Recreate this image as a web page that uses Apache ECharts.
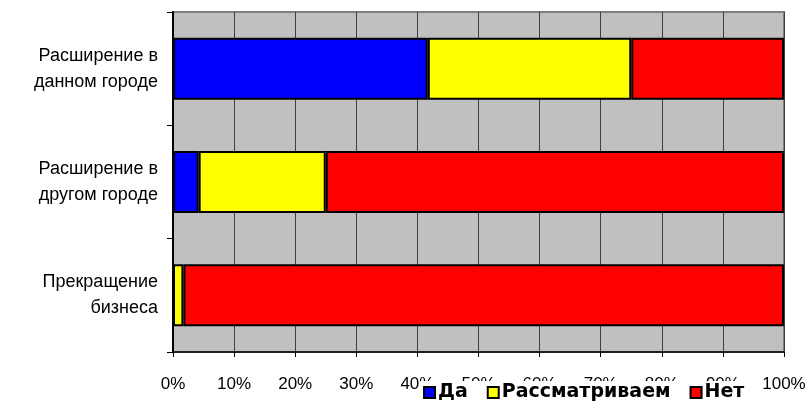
<!DOCTYPE html>
<html>
<head>
<meta charset="utf-8">
<script src="https://cdn.jsdelivr.net/npm/echarts@6/dist/echarts.min.js"></script>
<style>html,body{margin:0;padding:0;background:#fff;}#c{width:810px;height:412px;}</style>
</head>
<body>
<div id="c"></div>
<script>
const categories = ['Расширение в\nданном городе', 'Расширение в\nдругом городе', 'Прекращение\nбизнеса'];
const seriesNames = ['Да', 'Рассматриваем', 'Нет'];
const valuesDa = [41.7, 4.2, 0];
const valuesConsider = [33.3, 20.8, 1.7];
const valuesNo = [25.0, 75.0, 98.3];
const xTicks = [0, 10, 20, 30, 40, 50, 60, 70, 80, 90, 100];
const colors = ['#0000FF', '#FFFF00', '#FF0000'];

const chart = echarts.init(document.getElementById('c'), null, {renderer: 'canvas'});
const dataSets = [valuesDa, valuesConsider, valuesNo];
chart.setOption({
  animation: false,
  textStyle: {fontFamily: 'Liberation Sans, Arial, sans-serif'},
  grid: {left: 173, right: 26, top: 12, bottom: 60, show: true, backgroundColor: '#C0C0C0', borderColor: '#808080', borderWidth: 2},
  legend: {
    data: seriesNames,
    left: 419, top: 381,
    padding: [2, 4, 1, 4],
    backgroundColor: '#FFFFFF',
    icon: 'rect', itemWidth: 11, itemHeight: 11, itemGap: 19,
    itemStyle: {borderColor: '#000', borderWidth: 2},
    textStyle: {fontSize: 19, fontWeight: 'bold', color: '#000', fontFamily: 'DejaVu Sans', padding: [0, 0, 0, -2]},
    z: 10
  },
  xAxis: {
    type: 'value', min: 0, max: 100, interval: 10,
    axisLine: {show: true, lineStyle: {color: '#000', width: 1.5}},
    axisTick: {show: true, length: 5, lineStyle: {color: '#000'}},
    axisLabel: {formatter: v => xTicks.includes(v) ? v + '%' : '', fontSize: 17, color: '#000', margin: 24},
    splitLine: {show: true, lineStyle: {color: '#404040', width: 1}}
  },
  yAxis: {
    type: 'category', data: categories, inverse: true,
    axisLine: {show: true, lineStyle: {color: '#000', width: 2}},
    axisTick: {show: true, length: 6, interval: 0, lineStyle: {color: '#000'}},
    axisLabel: {fontSize: 18, color: '#000', margin: 15, lineHeight: 26, align: 'right', verticalAlign: 'middle', backgroundColor: 'transparent', padding: [0, 0, 7, 0]},
    splitLine: {show: false}
  },
  series: seriesNames.map((n, i) => ({
    name: n, type: 'bar', stack: 'total', data: dataSets[i],
    barWidth: 62,
    itemStyle: {color: colors[i], borderColor: '#000', borderWidth: 2}
  }))
});
</script>
</body>
</html>
